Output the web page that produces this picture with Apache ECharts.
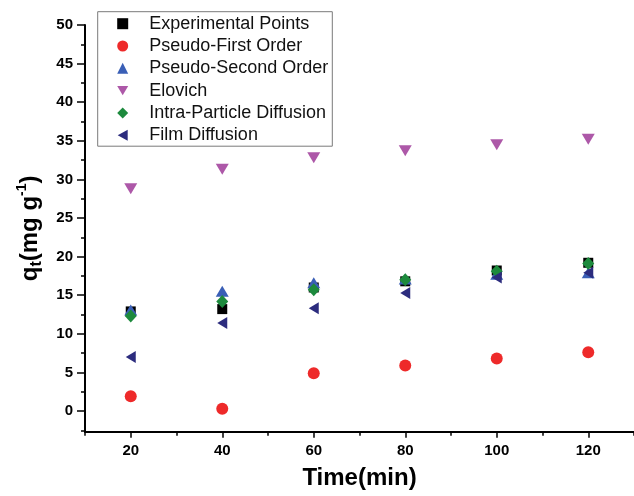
<!DOCTYPE html>
<html>
<head>
<meta charset="utf-8">
<style>
  html, body { margin: 0; padding: 0; background: #fff; }
  #chart { width: 634px; height: 496px; }
</style>
</head>
<body>
<div id="chart"></div>
<script src="https://cdn.jsdelivr.net/npm/echarts@6/dist/echarts.min.js"></script>
<script>
// time points (min)
var times = [20, 40, 60, 80, 100, 120];

// qt values
var experimental = [12.9, 13.2, 16.0, 16.8, 18.2, 19.2];
var pseudoFirst = [1.9, 0.3, 4.9, 5.9, 6.8, 7.6];
var pseudoSecond = [13.1, 15.5, 16.6, 17.1, 17.7, 17.9];
var elovich = [28.8, 31.3, 32.8, 33.7, 34.5, 35.2];
var intraParticle = [12.3, 14.2, 15.7, 17.0, 18.1, 19.1];
var filmDiffusion = [7.0, 11.4, 13.3, 15.3, 17.3, 17.9];

var xLabels = [20, 40, 60, 80, 100, 120];
var xMinor = [10, 30, 50, 70, 90, 110, 130];
var yLabels = [0, 5, 10, 15, 20, 25, 30, 35, 40, 45, 50];
var yMinor = [-2.5, 2.5, 7.5, 12.5, 17.5, 22.5, 27.5, 32.5, 37.5, 42.5, 47.5];

function pairs(vals) {
  return times.map(function (t, i) { return [t, vals[i]]; });
}

var font = 'Arial, "Liberation Sans", sans-serif';
var chart = echarts.init(document.getElementById('chart'));

function sc(name, vals, symbol, size, color, rotate) {
  return {
    name: name,
    type: 'scatter',
    data: pairs(vals),
    symbol: symbol,
    symbolSize: size,
    symbolRotate: rotate || 0,
    itemStyle: { color: color, opacity: 1 },
    emphasis: { disabled: true }
  };
}

chart.setOption({
  animation: false,
  textStyle: { fontFamily: font },
  grid: { left: 85, top: 25, right: -4, bottom: 64.3 },
  legend: {
    orient: 'vertical',
    left: 97.7,
    top: 11.7,
    padding: [3, 4, 2, 19.5],
    itemWidth: 11,
    itemHeight: 11,
    itemGap: 4.3,
    borderColor: '#7a7a7a',
    borderWidth: 1,
    formatter: function (n) { return '{s| }' + n; },
    textStyle: {
      fontFamily: font,
      fontSize: 18,
      color: '#111',
      lineHeight: 18,
      rich: { s: { width: 16 } }
    },
    data: [
      { name: 'Experimental Points', icon: 'rect' },
      { name: 'Pseudo-First Order', icon: 'circle' },
      { name: 'Pseudo-Second Order', icon: 'triangle' },
      { name: 'Elovich', icon: 'path://M0,0L12,0L6,10Z' },
      { name: 'Intra-Particle Diffusion', icon: 'diamond' },
      { name: 'Film Diffusion', icon: 'path://M10,0L10,11L0,5.5Z' }
    ]
  },
  xAxis: [{
    type: 'value',
    min: 10,
    max: 130,
    name: 'Time(min)',
    nameLocation: 'middle',
    nameGap: 35,
    nameTextStyle: { fontSize: 24, fontWeight: 'bold', color: '#000', fontFamily: font },
    splitLine: { show: false },
    axisLine: { onZero: false, lineStyle: { color: '#000', width: 2 } },
    axisTick: { customValues: xLabels, length: 6, lineStyle: { color: '#000', width: 1.5 } },
    axisLabel: { customValues: xLabels, margin: 12, fontSize: 15, fontWeight: 'bold', color: '#000' }
  }, {
    type: 'value',
    position: 'bottom',
    min: 10,
    max: 130,
    splitLine: { show: false },
    axisLine: { show: false, onZero: false },
    axisTick: { customValues: xMinor, length: 4, lineStyle: { color: '#000', width: 1.5 } },
    axisLabel: { show: false }
  }],
  yAxis: [{
    type: 'value',
    min: -2.68,
    max: 50,
    name: '{a|q}{t|t}{a|(mg g}{s|-1}{a|)}',
    nameLocation: 'middle',
    nameRotate: 90,
    nameGap: 40,
    nameTextStyle: {
      color: '#000',
      rich: {
        a: { fontSize: 24, fontWeight: 'bold', fontFamily: font, lineHeight: 30, color: '#000' },
        t: { fontSize: 16, fontWeight: 'bold', fontFamily: font, lineHeight: 14, verticalAlign: 'bottom', color: '#000' },
        s: { fontSize: 14, fontWeight: 'bold', fontFamily: font, lineHeight: 14, verticalAlign: 'top', color: '#000' }
      }
    },
    splitLine: { show: false },
    axisLine: { show: true, onZero: false, lineStyle: { color: '#000', width: 2 } },
    axisTick: { show: true, customValues: yLabels, length: 8, lineStyle: { color: '#000', width: 1.5 } },
    axisLabel: { customValues: yLabels, margin: 12, fontSize: 15, fontWeight: 'bold', color: '#000' }
  }, {
    type: 'value',
    position: 'left',
    min: -2.68,
    max: 50,
    splitLine: { show: false },
    axisLine: { show: false, onZero: false },
    axisTick: { show: true, customValues: yMinor, length: 4, lineStyle: { color: '#000', width: 1.5 } },
    axisLabel: { show: false }
  }],
  series: [
    sc('Experimental Points', experimental, 'rect', 10, '#000000'),
    sc('Pseudo-First Order', pseudoFirst, 'circle', 12, '#ee2a2a'),
    sc('Pseudo-Second Order', pseudoSecond, 'triangle', [13, 11], '#3a5fb6'),
    sc('Elovich', elovich, 'triangle', [13, 11], '#ad58a8', 180),
    sc('Intra-Particle Diffusion', intraParticle, 'diamond', [12, 13], '#1d8a3d'),
    sc('Film Diffusion', filmDiffusion, 'triangle', [12, 10], '#2c2c7e', 90)
  ]
});
</script>
</body>
</html>
